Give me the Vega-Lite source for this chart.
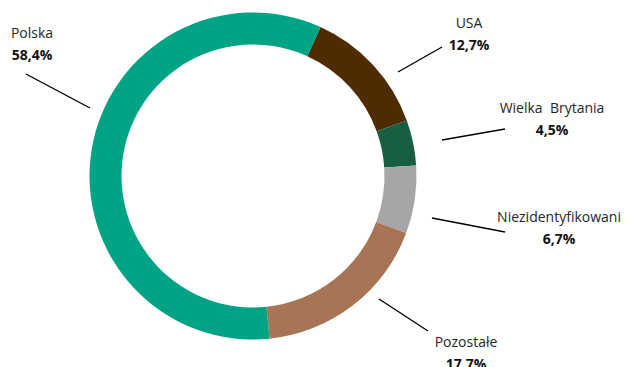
{
  "$schema": "https://vega.github.io/schema/vega-lite/v6.json",
  "width": 627,
  "height": 367,
  "padding": 0,
  "autosize": {"type": "none"},
  "background": "white",
  "config": {
    "view": {"stroke": null},
    "font": "Open Sans",
    "locale": {
      "number": {"decimal": ",", "thousands": "\u00a0", "grouping": [3], "currency": ["", " zł"]}
    }
  },
  "datasets": {
    "shares": [
      {"kraj": "USA", "udzial": 0.127, "kolejnosc": 1},
      {"kraj": "Wielka\u00a0 Brytania", "udzial": 0.045, "kolejnosc": 2},
      {"kraj": "Niezidentyfikowani", "udzial": 0.067, "kolejnosc": 3},
      {"kraj": "Pozostałe", "udzial": 0.177, "kolejnosc": 4},
      {"kraj": "Polska", "udzial": 0.584, "kolejnosc": 5}
    ],
    "callouts": [
      {"kraj": "USA", "lx": 216, "ly": 148, "x1": 145, "y1": 104, "x2": 189, "y2": 129},
      {"kraj": "Wielka\u00a0 Brytania", "lx": 299, "ly": 63, "x1": 189, "y1": 36, "x2": 252, "y2": 47},
      {"kraj": "Niezidentyfikowani", "lx": 306, "ly": -46, "x1": 179, "y1": -42, "x2": 252, "y2": -56},
      {"kraj": "Pozostałe", "lx": 213, "ly": -171, "x1": 126, "y1": -123, "x2": 175, "y2": -155},
      {"kraj": "Polska", "lx": -221, "ly": 138, "x1": -227, "y1": 102, "x2": -163, "y2": 68}
    ]
  },
  "data": {"name": "shares"},
  "transform": [
    {"lookup": "kraj", "from": {"data": {"name": "callouts"}, "key": "kraj", "fields": ["lx", "ly", "x1", "y1", "x2", "y2"]}}
  ],
  "layer": [
    {
      "transform": [
        {"stack": "udzial", "groupby": [], "sort": [{"field": "kolejnosc", "order": "ascending"}], "as": ["t0", "t1"]}
      ],
      "mark": {"type": "arc", "outerRadius": 163.5, "innerRadius": 131.5},
      "encoding": {
        "x": {"datum": 0, "type": "quantitative", "scale": {"domain": [-253, 374], "nice": false, "zero": false}, "axis": null},
        "y": {"datum": 0, "type": "quantitative", "scale": {"domain": [-191, 176], "nice": false, "zero": false}, "axis": null},
        "theta": {"field": "t0", "type": "quantitative", "scale": {"domain": [0, 1], "range": [0.426, 6.709]}},
        "theta2": {"field": "t1"},
        "color": {
          "field": "kraj",
          "type": "nominal",
          "legend": null,
          "scale": {
            "domain": ["Polska", "USA", "Wielka\u00a0 Brytania", "Niezidentyfikowani", "Pozostałe"],
            "range": ["#00A383", "#4F2B00", "#175E42", "#A6A6A6", "#A77555"]
          }
        }
      }
    },
    {
      "mark": {"type": "rule", "stroke": "#000000", "strokeWidth": 1.4},
      "encoding": {
        "x": {"field": "x1", "type": "quantitative"},
        "y": {"field": "y1", "type": "quantitative"},
        "x2": {"field": "x2"},
        "y2": {"field": "y2"}
      }
    },
    {
      "mark": {"type": "text", "fontSize": 14, "font": "Open Sans", "letterSpacing": 0.35, "color": "#262626", "align": "center", "baseline": "alphabetic"},
      "encoding": {
        "x": {"field": "lx", "type": "quantitative"},
        "y": {"field": "ly", "type": "quantitative"},
        "text": {"field": "kraj"}
      }
    },
    {
      "mark": {"type": "text", "fontSize": 14, "font": "Open Sans", "fontWeight": "bold", "letterSpacing": 0.3, "color": "#111111", "align": "center", "baseline": "alphabetic", "dy": 22},
      "encoding": {
        "x": {"field": "lx", "type": "quantitative"},
        "y": {"field": "ly", "type": "quantitative"},
        "text": {"field": "udzial", "type": "quantitative", "format": ".1%"}
      }
    }
  ]
}
